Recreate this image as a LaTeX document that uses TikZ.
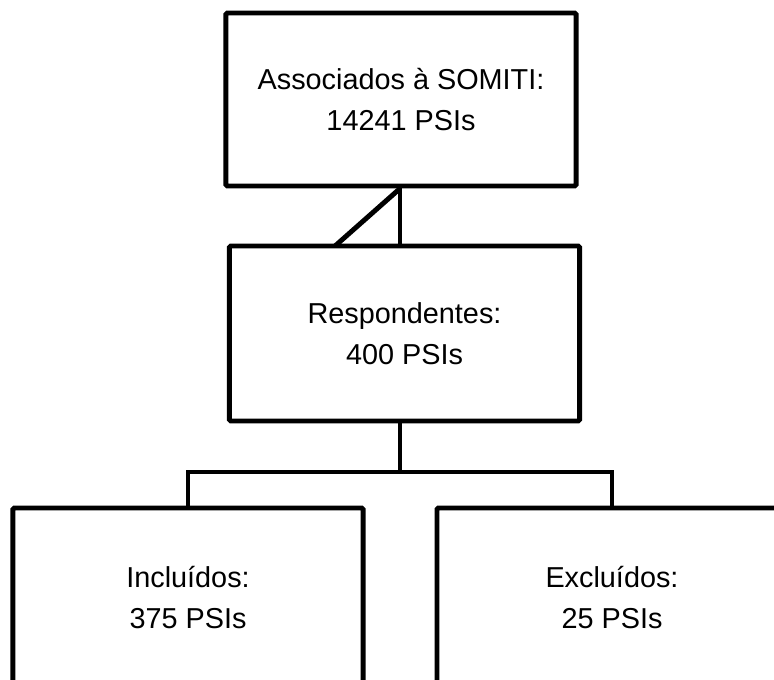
\documentclass[tikz,border=0pt]{standalone}
\usepackage{fontspec}
\setmainfont{Liberation Sans}
\usepackage{tikz}
\usetikzlibrary{positioning}

\begin{document}
\begin{tikzpicture}[x=0.025cm, y=-0.025cm, line width=3.5pt,
    box/.style={draw, rounded corners=1pt, align=center, minimum width=8.75cm, inner sep=0pt,
        font=\fontsize{20.5}{29.2}\selectfont}]
    \useasboundingbox (0,0) rectangle (774,679);

    \node[box, minimum height=4.325cm] (somiti) at (401,99.5) {Associados à SOMITI:\\14241 PSIs};
    \node[box, minimum height=4.375cm] (resp) at (404.5,333.5) {Respondentes:\\400 PSIs};
    \node[box, minimum height=4.475cm] (incl) at (188,597.5) {Incluídos:\\375 PSIs};
    \node[box, minimum height=4.475cm] (excl) at (612,597.5) {Excluídos:\\25 PSIs};

    \coordinate (hub) at (400,472);
    \coordinate (foot) at (335,246);

    \draw (somiti.south -| hub) -- (resp.north -| hub);
    \draw (somiti.south -| hub) -- (foot);
    \draw (resp.south -| hub) -- (hub);
    \draw (incl.north) |- (hub) -| (excl.north);
\end{tikzpicture}
\end{document}
